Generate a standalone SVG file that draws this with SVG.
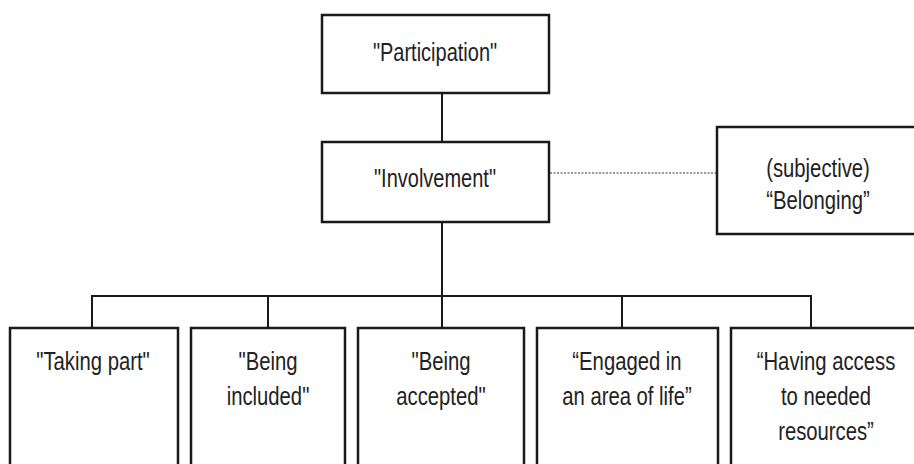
<svg xmlns="http://www.w3.org/2000/svg" width="914" height="464" viewBox="0 0 914 464">
<style>
.box{fill:#fff;stroke:#1a1a1a;stroke-width:2.5}
.ln{fill:none;stroke:#1a1a1a;stroke-width:2}
.dot{fill:none;stroke:#777;stroke-width:1.5;stroke-dasharray:2 1.5}
text{font-family:"Liberation Sans",Arial,sans-serif;font-size:25px;fill:#222;text-anchor:middle}
.b{font-size:26px}
</style>
<rect width="914" height="464" fill="#fff"/>
<g id="connectors">
<line class="ln" x1="442" y1="93" x2="442" y2="142"/>
<line class="ln" x1="442" y1="222" x2="442" y2="328"/>
<polyline class="ln" points="92,328 92,296 811,296 811,328"/>
<line class="ln" x1="268" y1="296" x2="268" y2="328"/>
<line class="ln" x1="622" y1="296" x2="622" y2="328"/>
<line class="dot" x1="550" y1="173" x2="716" y2="173"/>
</g>
<g id="participation"><rect class="box" x="322" y="15" width="227" height="78"/><text transform="translate(435,61) scale(0.8,1)">"Participation"</text></g>
<g id="involvement"><rect class="box" x="322" y="142" width="227" height="80"/><text transform="translate(435,187) scale(0.8,1)">"Involvement"</text></g>
<g id="belonging"><rect class="box" x="717" y="127" width="204" height="107"/><text class="b" transform="translate(818,177) scale(0.78,1)">(subjective)</text><text class="b" transform="translate(818,209) scale(0.78,1)">“Belonging”</text></g>
<g id="taking-part"><rect class="box" x="10" y="328" width="168" height="150"/><text class="b" transform="translate(93,370) scale(0.78,1)">"Taking part"</text></g>
<g id="being-included"><rect class="box" x="191" y="328" width="154" height="150"/><text class="b" transform="translate(268,370) scale(0.78,1)">"Being</text><text class="b" transform="translate(268,405) scale(0.78,1)">included"</text></g>
<g id="being-accepted"><rect class="box" x="358" y="328" width="166" height="150"/><text class="b" transform="translate(441,370) scale(0.78,1)">"Being</text><text class="b" transform="translate(441,405) scale(0.78,1)">accepted"</text></g>
<g id="engaged"><rect class="box" x="537" y="328" width="181" height="150"/><text class="b" transform="translate(627,370) scale(0.78,1)">“Engaged in</text><text class="b" transform="translate(627,405) scale(0.78,1)">an area of life”</text></g>
<g id="having-access"><rect class="box" x="731" y="328" width="190" height="150"/><text class="b" transform="translate(826,370) scale(0.78,1)">“Having access</text><text class="b" transform="translate(826,405) scale(0.78,1)">to needed</text><text class="b" transform="translate(826,440) scale(0.78,1)">resources”</text></g>
</svg>
